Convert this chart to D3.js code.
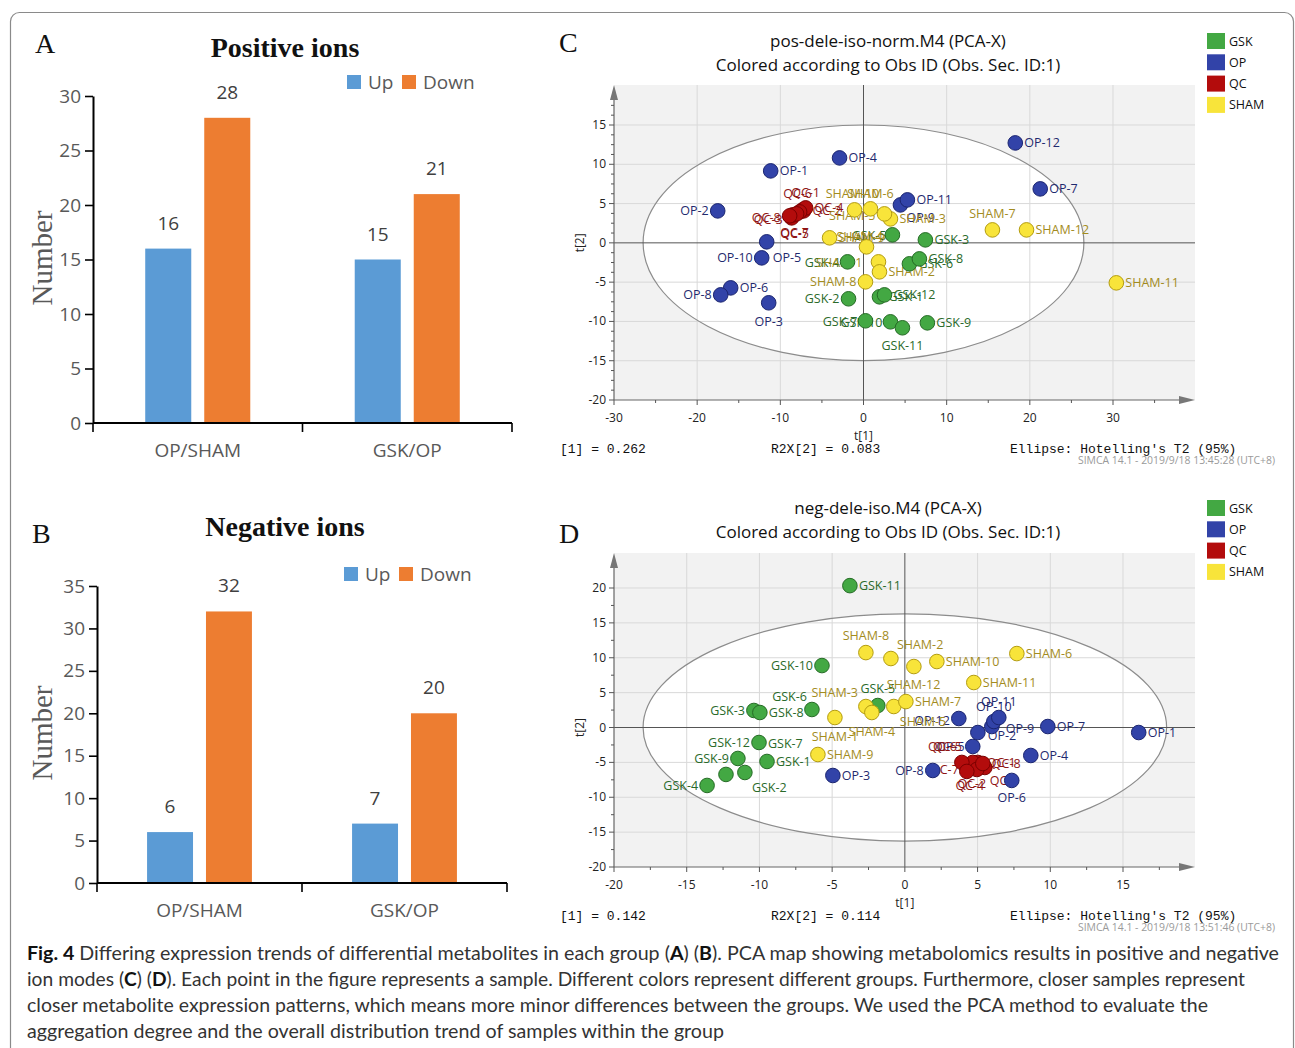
<!DOCTYPE html>
<html>
<head>
<meta charset="utf-8">
<script src="https://cdn.jsdelivr.net/npm/d3@7"></script>
<style>
  body { margin: 0; background: #fff; }
  svg { display: block; }
</style>
</head>
<body>
<div id="fig"></div>
<script>
// ---- bar panels (A, B)
const comparisons = ["OP/SHAM", "GSK/OP"];
const directions = ["Up", "Down"];
const posUp = [16, 15];
const posDown = [28, 21];
const negUp = [6, 7];
const negDown = [32, 20];
const posTicks = [0, 5, 10, 15, 20, 25, 30];
const negTicks = [0, 5, 10, 15, 20, 25, 30, 35];

// ---- PCA panels (C, D): [sample, t1, t2]
const groups = ["GSK", "OP", "QC", "SHAM"];

const posGSK = [
  ["GSK-1", 1.92, -6.87], ["GSK-2", -1.80, -7.12], ["GSK-3", 7.44, 0.38],
  ["GSK-4", -1.92, -2.42], ["GSK-5", 3.48, 1.02], ["GSK-6", 5.52, -2.67],
  ["GSK-7", 0.24, -9.92], ["GSK-8", 6.72, -2.04], ["GSK-9", 7.68, -10.18],
  ["GSK-10", 3.24, -10.05], ["GSK-11", 4.68, -10.81], ["GSK-12", 2.52, -6.62]
];
const posOP = [
  ["OP-1", -11.16, 9.16], ["OP-2", -17.53, 4.07], ["OP-3", -11.40, -7.63],
  ["OP-4", -2.88, 10.81], ["OP-5", -11.64, 0.13], ["OP-6", -15.97, -5.73],
  ["OP-7", 21.25, 6.87], ["OP-8", -17.17, -6.62], ["OP-9", 4.44, 4.83],
  ["OP-10", -12.24, -1.91], ["OP-11", 5.28, 5.47], ["OP-12", 18.25, 12.72]
];
const posQC = [
  ["QC-1", -7.32, 4.20], ["QC-2", -7.20, 4.07], ["QC-3", -8.64, 3.18],
  ["QC-4", -6.96, 4.45], ["QC-5", -8.52, 3.56], ["QC-6", -7.68, 3.94],
  ["QC-7", -8.04, 3.69], ["QC-8", -8.88, 3.44]
];
const posSHAM = [
  ["SHAM-1", 1.80, -2.42], ["SHAM-2", 1.92, -3.69], ["SHAM-3", 3.24, 3.05],
  ["SHAM-4", 0.36, -0.51], ["SHAM-5", 2.52, 3.69], ["SHAM-6", 0.84, 4.33],
  ["SHAM-7", 15.5, 1.65], ["SHAM-8", 0.24, -4.96], ["SHAM-9", -4.08, 0.64],
  ["SHAM-10", -1.08, 4.20], ["SHAM-11", 30.4, -5.09], ["SHAM-12", 19.6, 1.65]
];

const negGSK = [
  ["GSK-1", -9.48, -4.87], ["GSK-2", -11.0, -6.45], ["GSK-3", -10.38, 2.44],
  ["GSK-4", -13.6, -8.31], ["GSK-5", -1.86, 3.15], ["GSK-6", -6.39, 2.58],
  ["GSK-7", -12.30, -6.73], ["GSK-8", -9.97, 2.15], ["GSK-9", -11.48, -4.44],
  ["GSK-10", -5.70, 8.88], ["GSK-11", -3.78, 20.34], ["GSK-12", -10.03, -2.15]
];
const negOP = [
  ["OP-1", 16.08, -0.72], ["OP-2", 5.02, -0.72], ["OP-3", -4.95, -6.88],
  ["OP-4", 8.66, -4.01], ["OP-5", 4.67, -2.72], ["OP-6", 7.35, -7.59],
  ["OP-7", 9.83, 0.14], ["OP-8", 1.92, -6.16], ["OP-9", 5.98, 0.14],
  ["OP-10", 6.12, 0.86], ["OP-11", 6.46, 1.43], ["OP-12", 3.71, 1.29]
];
const negQC = [
  ["QC-1", 5.02, -5.01], ["QC-2", 4.33, -5.59], ["QC-3", 5.50, -5.73],
  ["QC-4", 4.67, -5.01], ["QC-5", 4.95, -6.02], ["QC-6", 3.92, -5.01],
  ["QC-7", 4.26, -6.30], ["QC-8", 5.36, -5.16]
];
const negSHAM = [
  ["SHAM-1", -4.81, 1.43], ["SHAM-2", -0.96, 9.89], ["SHAM-3", -2.68, 3.01],
  ["SHAM-4", -2.27, 2.15], ["SHAM-5", -0.76, 3.01], ["SHAM-6", 7.70, 10.60],
  ["SHAM-7", 0.07, 3.72], ["SHAM-8", -2.68, 10.74], ["SHAM-9", -5.98, -3.87],
  ["SHAM-10", 2.20, 9.46], ["SHAM-11", 4.74, 6.45], ["SHAM-12", 0.62, 8.74]
];

const posXTicks = [-30, -20, -10, 0, 10, 20, 30];
const posYTicks = [-20, -15, -10, -5, 0, 5, 10, 15];
const negXTicks = [-20, -15, -10, -5, 0, 5, 10, 15];
const negYTicks = [-20, -15, -10, -5, 0, 5, 10, 15, 20];

const captionLines = [
  ["Fig. 4", "  Differing expression trends of differential metabolites in each group (", "A", ") (", "B", "). PCA map showing metabolomics results in positive and negative"],
  ["ion modes (", "C", ") (", "D", "). Each point in the figure represents a sample. Different colors represent different groups. Furthermore, closer samples represent"],
  ["closer metabolite expression patterns, which means more minor differences between the groups. We used the PCA method to evaluate the"],
  ["aggregation degree and the overall distribution trend of samples within the group"]
];

// ---- styling / layout
const barColors = { Up: "#5b9bd5", Down: "#ed7d31" };
const fill = { GSK: "#43a843", OP: "#3243a8", QC: "#b30c0c", SHAM: "#f8e43a" };
const edge = { GSK: "#256b25", OP: "#1b2570", QC: "#7a0000", SHAM: "#b39c10" };
const ink = { GSK: "#2a6a2a", OP: "#1f2a6e", QC: "#8e1414", SHAM: "#a38c1e" };

const L = [-9, 4.5, "end"];
const posNudge = {
  "OP-2": L, "OP-10": L, "OP-8": L, "OP-3": [0, 23, "middle"], "OP-5": [6, 20, "start"],
  "OP-9": [6, 17, "start"],
  "QC-8": [-9, 6, "end"], "QC-3": [-9, 6, "end"], "QC-5": [2, 23, "middle"], "QC-7": [-2, 23, "middle"],
  "QC-6": [-2, -14, "middle"], "QC-1": [3, -13, "middle"],
  "SHAM-10": [-2, -12, "middle"], "SHAM-6": [0, -11, "middle"], "SHAM-5": [-9, 6, "end"],
  "SHAM-4": [-30, -6, "start"], "SHAM-1": [-16, 5, "end"], "SHAM-8": L, "SHAM-7": [0, -12, "middle"],
  "GSK-5": [-6, 5, "end"], "GSK-4": [-8, 5, "end"], "GSK-2": L, "GSK-7": [-8, 5, "end"],
  "GSK-10": [-8, 5, "end"], "GSK-11": [0, 22, "middle"]
};
const negNudge = {
  "GSK-10": L, "GSK-6": [-5, -9, "end"], "GSK-5": [0, -13, "middle"], "GSK-3": L, "GSK-12": L,
  "GSK-7": [42, -26, "start"], "GSK-9": L, "GSK-2": [7, 20, "start"], "GSK-4": L,
  "SHAM-8": [0, -13, "middle"], "SHAM-2": [6, -10, "start"], "SHAM-12": [-27, 22, "start"],
  "SHAM-5": [6, 19, "start"], "SHAM-3": [-8, -10, "end"], "SHAM-4": [0, 23, "middle"],
  "SHAM-1": [0, 23, "middle"],
  "OP-12": [-9, 6, "end"], "OP-11": [0, -12, "middle"], "OP-10": [0, -11, "middle"],
  "OP-9": [14, 6, "start"], "OP-2": [10, 7, "start"], "OP-5": [-8, 5, "end"], "OP-8": L,
  "OP-6": [0, 22, "middle"],
  "QC-6": [-5, -11, "end"], "QC-5": [-15, -18, "end"], "QC-7": [-8, 3, "end"],
  "QC-2": [4, 22, "middle"], "QC-4": [-3, 28, "middle"], "QC-3": [5, 18, "start"]
};

const svg = d3.select("#fig").append("svg")
  .attr("width", 1295)
  .attr("height", 1048);

// figure frame
svg.append("rect")
  .attr("x", 10.5).attr("y", 12.5)
  .attr("width", 1283).attr("height", 1060)
  .attr("rx", 9)
  .attr("fill", "none")
  .attr("stroke", "#8a8a8a")
  .attr("stroke-width", 1.2);

const serif = "'Liberation Serif', 'Times New Roman', serif";
const sans = "'Open Sans', 'Noto Sans', sans-serif";
const mono = "'Liberation Mono', 'DejaVu Sans Mono', monospace";

function drawBars(o) {
  const g = svg.append("g");
  const y = d3.scaleLinear().domain([0, o.yMax]).range([o.yBottom, o.yTop]);
  const x0 = d3.scaleBand().domain(comparisons).range([o.xLeft, o.xRight]);
  const x1 = d3.scaleBand().domain(directions)
    .range([0, x0.bandwidth()])
    .paddingInner(0.22)
    .paddingOuter(o.outer);

  const rows = comparisons.flatMap((c, i) =>
    directions.map((d, j) => ({ c: c, d: d, v: o.series[j][i] })));

  g.selectAll("rect.bar")
    .data(rows)
    .enter()
    .append("rect")
    .attr("x", d => x0(d.c) + x1(d.d))
    .attr("y", d => y(d.v))
    .attr("width", x1.bandwidth())
    .attr("height", d => y(0) - y(d.v))
    .attr("fill", d => barColors[d.d]);

  g.selectAll("text.val")
    .data(rows)
    .enter()
    .append("text")
    .attr("x", d => x0(d.c) + x1(d.d) + x1.bandwidth() / 2)
    .attr("y", d => y(d.v) - 19)
    .attr("text-anchor", "middle")
    .style("font-family", sans)
    .style("font-size", "19px")
    .style("fill", "#404040")
    .text(d => d.v);

  const yaxis = g.append("g")
    .attr("transform", `translate(${o.xLeft},0)`)
    .call(d3.axisLeft(y).tickValues(o.ticks).tickSize(8).tickSizeOuter(0).tickPadding(4));
  yaxis.select(".domain").attr("stroke", "#000").attr("stroke-width", 2);
  yaxis.selectAll(".tick line").attr("stroke", "#000").attr("stroke-width", 1.6);
  yaxis.selectAll(".tick text")
    .style("font-family", sans)
    .style("font-size", "19px")
    .style("fill", "#595959");

  // category axis
  g.append("line")
    .attr("x1", o.xLeft).attr("x2", o.xRight)
    .attr("y1", y(0)).attr("y2", y(0))
    .attr("stroke", "#000").attr("stroke-width", 2);
  const edges = comparisons.map(c => x0(c)).concat([o.xRight]);
  g.selectAll("line.edge")
    .data(edges)
    .enter()
    .append("line")
    .attr("x1", d => d).attr("x2", d => d)
    .attr("y1", y(0)).attr("y2", y(0) + 9)
    .attr("stroke", "#000").attr("stroke-width", 1.6);
  g.selectAll("text.cat")
    .data(comparisons)
    .enter()
    .append("text")
    .attr("x", c => x0(c) + x0.bandwidth() / 2)
    .attr("y", y(0) + 34)
    .attr("text-anchor", "middle")
    .style("font-family", sans)
    .style("font-size", "19px")
    .style("fill", "#595959")
    .text(c => c);

  g.append("text")
    .attr("transform", `translate(${o.labelX},${o.labelY}) rotate(-90)`)
    .attr("text-anchor", "middle")
    .attr("dy", "0.35em")
    .style("font-family", serif)
    .style("font-size", "29px")
    .style("fill", "#595959")
    .text("Number");

  g.append("text")
    .attr("x", o.letterX).attr("y", o.letterY)
    .style("font-family", serif)
    .style("font-size", "28px")
    .style("fill", "#111")
    .text(o.letter);

  g.append("text")
    .attr("x", 285).attr("y", o.titleY)
    .attr("text-anchor", "middle")
    .style("font-family", serif)
    .style("font-weight", "bold")
    .style("font-size", "28px")
    .style("fill", "#111")
    .text(o.title);

  // legend
  const lg = g.append("g").attr("transform", `translate(${o.legendX},${o.legendY})`);
  const lx = { Up: 0, Down: 55 };
  directions.forEach(d => {
    lg.append("rect").attr("x", lx[d]).attr("y", -14).attr("width", 14).attr("height", 14)
      .attr("fill", barColors[d]);
    lg.append("text").attr("x", lx[d] + 21).attr("y", 0)
      .style("font-family", sans).style("font-size", "19px").style("fill", "#595959")
      .text(d);
  });
}

drawBars({
  series: [posUp, posDown], yMax: 30, ticks: posTicks,
  yBottom: 423, yTop: 96, xLeft: 93, xRight: 512, outer: 0.885,
  labelX: 42, labelY: 258, letter: "A", letterX: 35, letterY: 53,
  title: "Positive ions", titleY: 57, legendX: 347, legendY: 89
});
drawBars({
  series: [negUp, negDown], yMax: 35, ticks: negTicks,
  yBottom: 883, yTop: 586, xLeft: 97, xRight: 507, outer: 0.85,
  labelX: 42, labelY: 733, letter: "B", letterX: 32, letterY: 543,
  title: "Negative ions", titleY: 536, legendX: 344, legendY: 581
});

function drawPca(o) {
  const g = svg.append("g");
  const x = d3.scaleLinear().domain(o.xDom).range(o.xRange);
  const y = d3.scaleLinear().domain(o.yDom).range(o.yRange);
  const left = o.xRange[0], bottom = o.yRange[0];
  const right = o.right, top = o.top;

  g.append("rect")
    .attr("x", left).attr("y", top)
    .attr("width", right - left).attr("height", bottom - top)
    .attr("fill", "#f2f2f2");

  g.append("ellipse")
    .attr("cx", x(0)).attr("cy", y(0))
    .attr("rx", x(o.ellipse[0]) - x(0))
    .attr("ry", y(0) - y(o.ellipse[1]))
    .attr("fill", "#fff");

  const xGrid = o.xTicks.filter(v => v !== 0 && x(v) > left);
  const yGrid = o.yTicks.filter(v => v !== 0 && y(v) < bottom);
  g.selectAll("line.vg").data(xGrid).enter().append("line")
    .attr("x1", d => x(d)).attr("x2", d => x(d))
    .attr("y1", top).attr("y2", bottom)
    .attr("stroke", "#d9d9d9");
  g.selectAll("line.hg").data(yGrid).enter().append("line")
    .attr("x1", left).attr("x2", right)
    .attr("y1", d => y(d)).attr("y2", d => y(d))
    .attr("stroke", "#d9d9d9");

  g.append("ellipse")
    .attr("cx", x(0)).attr("cy", y(0))
    .attr("rx", x(o.ellipse[0]) - x(0))
    .attr("ry", y(0) - y(o.ellipse[1]))
    .attr("fill", "none")
    .attr("stroke", "#8c8c8c")
    .attr("stroke-width", 1.2);

  // origin lines
  g.append("line").attr("x1", x(0)).attr("x2", x(0)).attr("y1", top).attr("y2", bottom)
    .attr("stroke", "#555");
  g.append("line").attr("x1", left).attr("x2", right).attr("y1", y(0)).attr("y2", y(0))
    .attr("stroke", "#555");

  // axes with arrows
  g.append("line").attr("x1", left).attr("x2", left).attr("y1", bottom).attr("y2", top + 10)
    .attr("stroke", "#666").attr("stroke-width", 1.2);
  g.append("line").attr("x1", left).attr("x2", right - 10).attr("y1", bottom).attr("y2", bottom)
    .attr("stroke", "#666").attr("stroke-width", 1.2);
  g.append("path")
    .attr("d", `M${left},${top} L${left - 4},${top + 15} L${left + 4},${top + 15} Z`)
    .attr("fill", "#777");
  g.append("path")
    .attr("d", `M${right},${bottom} L${right - 16},${bottom - 4} L${right - 16},${bottom + 4} Z`)
    .attr("fill", "#777");

  const xMinor = d3.range(o.xDom[0], x.invert(right - 14), o.xMinor);
  const yMinor = d3.range(o.yDom[0], y.invert(top + 20), o.yMinor);
  g.selectAll("line.xm").data(xMinor).enter().append("line")
    .attr("x1", d => x(d)).attr("x2", d => x(d))
    .attr("y1", bottom).attr("y2", d => bottom + (o.xTicks.includes(d) ? 5 : 3))
    .attr("stroke", "#555");
  g.selectAll("line.ym").data(yMinor).enter().append("line")
    .attr("x1", d => left - (o.yTicks.includes(d) ? 5 : 3)).attr("x2", left)
    .attr("y1", d => y(d)).attr("y2", d => y(d))
    .attr("stroke", "#555");

  g.selectAll("text.xt").data(o.xTicks).enter().append("text")
    .attr("x", d => x(d)).attr("y", bottom + 22)
    .attr("text-anchor", "middle")
    .style("font-family", sans).style("font-size", "12px").style("fill", "#222")
    .text(d => d);
  g.selectAll("text.yt").data(o.yTicks).enter().append("text")
    .attr("x", left - 8).attr("y", d => y(d) + 4)
    .attr("text-anchor", "end")
    .style("font-family", sans).style("font-size", "12px").style("fill", "#222")
    .text(d => d);

  g.append("text")
    .attr("transform", `translate(${left - 34},${y(0)}) rotate(-90)`)
    .attr("text-anchor", "middle").attr("dy", "0.35em")
    .style("font-family", sans).style("font-size", "12px").style("fill", "#222")
    .text("t[2]");
  g.append("text")
    .attr("x", x(0)).attr("y", bottom + 40)
    .attr("text-anchor", "middle")
    .style("font-family", sans).style("font-size", "12px").style("fill", "#222")
    .text("t[1]");

  const samples = groups.flatMap((grp, i) =>
    o.sets[i].map(s => ({ group: grp, name: s[0], t1: s[1], t2: s[2] })));

  g.selectAll("text.lab")
    .data(samples)
    .enter()
    .append("text")
    .attr("x", d => x(d.t1) + (o.nudge[d.name] || [9, 4.5])[0])
    .attr("y", d => y(d.t2) + (o.nudge[d.name] || [9, 4.5])[1])
    .attr("text-anchor", d => (o.nudge[d.name] || [0, 0, "start"])[2])
    .style("font-family", sans)
    .style("font-size", "12.5px")
    .style("fill", d => ink[d.group])
    .text(d => d.name);

  g.selectAll("circle.pt")
    .data(samples)
    .enter()
    .append("circle")
    .attr("cx", d => x(d.t1))
    .attr("cy", d => y(d.t2))
    .attr("r", 7.3)
    .attr("fill", d => fill[d.group])
    .attr("stroke", d => edge[d.group])
    .attr("stroke-width", 1);

  // titles
  g.append("text").attr("x", 888).attr("y", o.titleY)
    .attr("text-anchor", "middle")
    .style("font-family", sans).style("font-size", "17px").style("fill", "#111")
    .text(o.title);
  g.append("text").attr("x", 888).attr("y", o.titleY + 24)
    .attr("text-anchor", "middle")
    .style("font-family", sans).style("font-size", "17px").style("fill", "#111")
    .text("Colored according to Obs ID (Obs. Sec. ID:1)");

  g.append("text")
    .attr("x", 559).attr("y", o.letterY)
    .style("font-family", serif).style("font-size", "28px").style("fill", "#111")
    .text(o.letter);

  // legend
  const lg = g.append("g").attr("transform", `translate(1207,${o.legendY})`);
  groups.forEach((grp, i) => {
    lg.append("rect").attr("x", 0).attr("y", i * 21.3).attr("width", 18).attr("height", 16)
      .attr("fill", fill[grp]);
    lg.append("text").attr("x", 22).attr("y", i * 21.3 + 12.5)
      .style("font-family", sans).style("font-size", "12.5px").style("fill", "#111")
      .text(grp);
  });

  // footer
  const fy = bottom + 53;
  [[560, o.r2x1], [771, o.r2x2], [1010, "Ellipse: Hotelling's T2 (95%)"]].forEach(f => {
    g.append("text").attr("x", f[0]).attr("y", fy)
      .style("font-family", mono).style("font-size", "13px").style("fill", "#111")
      .text(f[1]);
  });
  g.append("text").attr("x", 1078).attr("y", fy + 11)
    .attr("textLength", 197).attr("lengthAdjust", "spacingAndGlyphs")
    .style("font-family", sans).style("font-size", "10.5px").style("fill", "#9a9a9a")
    .text(o.stamp);
}

drawPca({
  sets: [posGSK, posOP, posQC, posSHAM], nudge: posNudge,
  xDom: [-30, 30], xRange: [614, 1113], yDom: [-20, 15], yRange: [400, 125],
  right: 1195, top: 85, xTicks: posXTicks, yTicks: posYTicks, xMinor: 5, yMinor: 1.25,
  ellipse: [26.5, 15], title: "pos-dele-iso-norm.M4 (PCA-X)", titleY: 47,
  letter: "C", letterY: 52, legendY: 33,
  r2x1: "[1] = 0.262", r2x2: "R2X[2] = 0.083", stamp: "SIMCA 14.1 - 2019/9/18 13:45:28 (UTC+8)"
});
drawPca({
  sets: [negGSK, negOP, negQC, negSHAM], nudge: negNudge,
  xDom: [-20, 15], xRange: [614, 1123], yDom: [-20, 20], yRange: [867, 588],
  right: 1195, top: 553, xTicks: negXTicks, yTicks: negYTicks, xMinor: 2.5, yMinor: 2.5,
  ellipse: [18, 16.3], title: "neg-dele-iso.M4 (PCA-X)", titleY: 514,
  letter: "D", letterY: 543, legendY: 500,
  r2x1: "[1] = 0.142", r2x2: "R2X[2] = 0.114", stamp: "SIMCA 14.1 - 2019/9/18 13:51:46 (UTC+8)"
});

// caption
const capLen = [1252, 1218, 1181, 697];
const boldParts = new Set(["Fig. 4", "A", "B", "C", "D"]);
captionLines.forEach((parts, i) => {
  const t = svg.append("text")
    .attr("x", 27).attr("y", 960 + i * 26)
    .attr("textLength", capLen[i]).attr("lengthAdjust", "spacingAndGlyphs")
    .style("font-family", "Lato, 'Open Sans', sans-serif")
    .style("font-size", "19px")
    .style("fill", "#333");
  parts.forEach(p => {
    t.append("tspan")
      .style("font-weight", boldParts.has(p) ? "bold" : "normal")
      .style("fill", boldParts.has(p) ? "#111" : "#333")
      .text(p);
  });
});
</script>
</body>
</html>
